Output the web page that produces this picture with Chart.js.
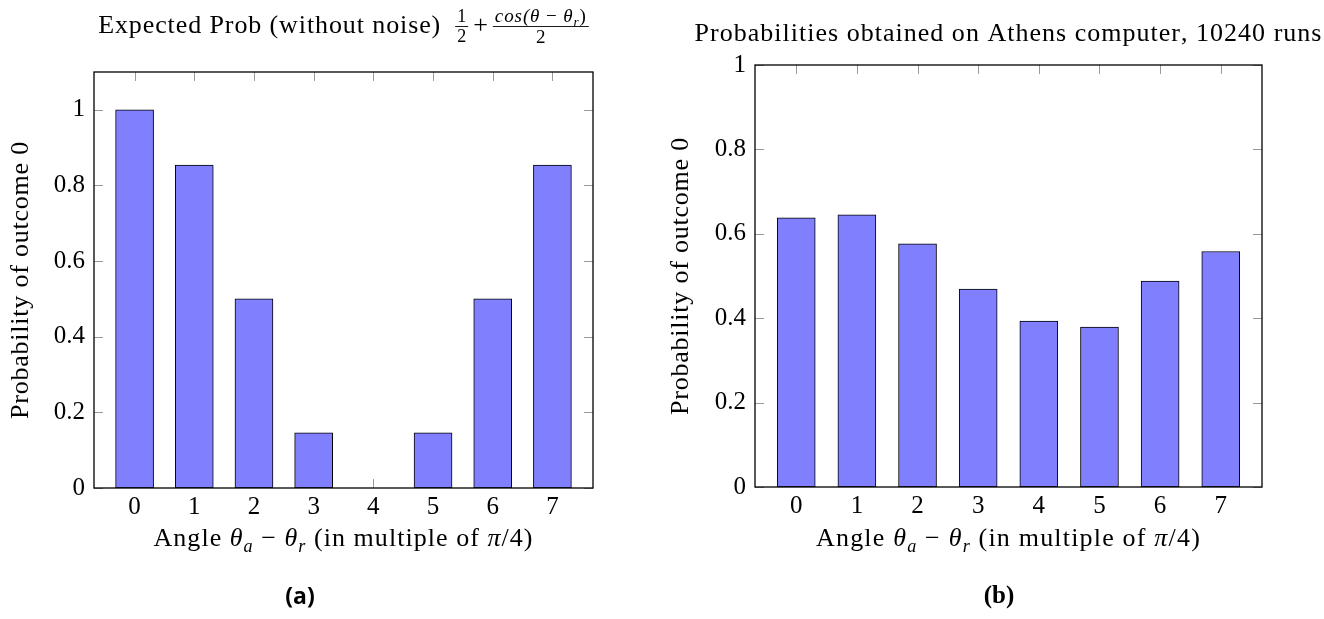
<!DOCTYPE html>
<html>
<head>
<meta charset="utf-8">
<script src="https://cdn.jsdelivr.net/npm/chart.js@4/dist/chart.umd.min.js"></script>
<style>
  body { margin: 0; background: #fff; width: 1324px; height: 619px; overflow: hidden; position: relative; }
  canvas { position: absolute; top: 0; }
  #chartA { left: 0; }
  #chartB { left: 660px; }
  .cap { position: absolute; top: 595px; transform: translate(-50%, -50%); color: #000; font-weight: bold; }
  #capA { left: 300px; font-family: "Open Sans", sans-serif; font-size: 23px; }
  #capB { left: 999px; font-family: "Liberation Serif", serif; font-size: 25px; }
</style>
</head>
<body>
<canvas id="chartA" width="660" height="619"></canvas>
<canvas id="chartB" width="664" height="619"></canvas>
<div class="cap" id="capA">(a)</div>
<div class="cap" id="capB">(b)</div>
<script>
// angle index (multiples of pi/4)
const angles = [0, 1, 2, 3, 4, 5, 6, 7];
// expected probability of outcome 0 without noise
const expectedProb = [1, 0.854, 0.5, 0.146, 0, 0.146, 0.5, 0.854];
// measured on Athens, 10240 runs
const athensProb = [0.638, 0.645, 0.576, 0.469, 0.393, 0.379, 0.488, 0.558];
const yTicksA = [0, 0.2, 0.4, 0.6, 0.8, 1];
const yTicksB = [0, 0.2, 0.4, 0.6, 0.8, 1];

const titleA = "Expected Prob (without noise)";
const titleB = "Probabilities obtained on Athens computer, 10240 runs";
const yTitle = "Probability of outcome 0";

const SERIF = '"Liberation Serif", serif';
const BAR_FILL = "#8080ff";
const TXT = 26;

function segFont(s, base) {
    const size = s.sub ? base * 0.7 : base;
    return (s.it ? "italic " : "") + size + "px " + SERIF;
}

function measureSegs(ctx, segs, base) {
    let w = 0, n = 0;
    segs.forEach(s => {
        ctx.font = segFont(s, base);
        for (const ch of s.t) { w += ctx.measureText(ch).width; n++; }
    });
    return { w, n };
}

// draws segments char by char, with extra spacing so the run fills "target" px
function drawSegs(ctx, segs, base, x, y, target) {
    const m = measureSegs(ctx, segs, base);
    const ls = target ? (target - m.w) / m.n : 0;
    segs.forEach(s => {
        ctx.font = segFont(s, base);
        const dy = s.sub ? base * 0.22 : 0;
        for (const ch of s.t) {
            ctx.fillText(ch, x, y + dy);
            x += ctx.measureText(ch).width + ls;
        }
    });
    return x;
}

function drawFrac(ctx, num, den, base, x, barY, w, numTarget) {
    const md = measureSegs(ctx, den, base);
    const wn = numTarget || measureSegs(ctx, num, base).w;
    drawSegs(ctx, num, base, x + (w - wn) / 2, barY - 4, numTarget);
    drawSegs(ctx, den, base, x + (w - md.w) / 2, barY + 4 + base * 0.66);
    ctx.beginPath();
    ctx.lineWidth = 0.9;
    ctx.moveTo(x, barY + 0.5);
    ctx.lineTo(x + w, barY + 0.5);
    ctx.stroke();
    return x + w;
}

const xTitleSegs = [
    { t: "Angle " }, { t: "θ", it: true }, { t: "a", it: true, sub: true },
    { t: " − " }, { t: "θ", it: true }, { t: "r", it: true, sub: true },
    { t: " (in multiple of " }, { t: "π", it: true }, { t: "/4)" }
];

function decorPlugin(which) {
    return {
        id: "decor" + which,
        beforeDatasetsDraw(chart) {
            const { ctx, chartArea: a, scales } = chart;
            const tl = 9;
            ctx.save();
            ctx.strokeStyle = "#9a9a9a";
            ctx.lineWidth = 1;
            ctx.beginPath();
            scales.x.ticks.forEach(t => {
                const px = Math.round(scales.x.getPixelForValue(t.value)) + 0.5;
                ctx.moveTo(px, a.bottom); ctx.lineTo(px, a.bottom - tl);
                ctx.moveTo(px, a.top); ctx.lineTo(px, a.top + tl);
            });
            scales.y.ticks.forEach(t => {
                const py = Math.round(scales.y.getPixelForValue(t.value)) + 0.5;
                ctx.moveTo(a.left, py); ctx.lineTo(a.left + tl, py);
                ctx.moveTo(a.right, py); ctx.lineTo(a.right - tl, py);
            });
            ctx.stroke();
            ctx.restore();
        },
        afterDatasetsDraw(chart) {
            const { ctx, chartArea: a } = chart;
            ctx.save();
            ctx.strokeStyle = "#000";
            ctx.lineWidth = 1.3;
            ctx.strokeRect(a.left, a.top, a.right - a.left, a.bottom - a.top);
            ctx.restore();
        },
        afterDraw(chart) {
            const { ctx, chartArea: a } = chart;
            const cx = (a.left + a.right) / 2;
            const cy = (a.top + a.bottom) / 2;
            ctx.save();
            ctx.fillStyle = "#000";
            ctx.strokeStyle = "#000";
            ctx.textBaseline = "alphabetic";
            ctx.textAlign = "left";

            // title
            if (which === "A") {
                const num2 = [{ t: "cos(", it: true }, { t: "θ", it: true }, { t: " − " }, { t: "θ", it: true }, { t: "r", it: true, sub: true }, { t: ")" }];
                const total = 343 + 14 + 13 + 5 + measureSegs(ctx, [{ t: "+" }], TXT).w + 5 + 96;
                const base = 33;
                const barY = base - 7;
                let x = cx - total / 2;
                x = drawSegs(ctx, [{ t: titleA }], TXT, x, base, 343);
                x += 14;
                x = drawFrac(ctx, [{ t: "1" }], [{ t: "2" }], 18, x, barY, 13);
                x += 5;
                x = drawSegs(ctx, [{ t: "+" }], TXT, x, base);
                x += 5;
                drawFrac(ctx, num2, [{ t: "2" }], 19, x, barY, 96, 92);
            } else {
                drawSegs(ctx, [{ t: titleB }], TXT, cx - 314, 41, 628);
            }

            // x axis title
            const xw = which === "A" ? 380 : 385;
            drawSegs(ctx, xTitleSegs, TXT, cx - xw / 2, 546, xw);

            // y axis title
            ctx.translate(21, cy);
            ctx.rotate(-Math.PI / 2);
            drawSegs(ctx, [{ t: yTitle }], TXT, -139, 7, 278);
            ctx.restore();
        }
    };
}

function makeChart(id, which, values, yTicks, yMax, yAxisW, padRight, padTop, xAxisH) {
    const ctx = document.getElementById(id).getContext("2d");
    return new Chart(ctx, {
        type: "bar",
        data: {
            datasets: [{
                data: angles.map((a, i) => ({ x: a, y: values[i] })),
                backgroundColor: BAR_FILL,
                borderColor: "#000",
                borderWidth: 1,
                borderSkipped: false,
                barThickness: 38
            }]
        },
        options: {
            responsive: false,
            animation: false,
            devicePixelRatio: 1,
            layout: { padding: { left: 0, right: padRight, top: padTop, bottom: 0 } },
            plugins: { legend: { display: false }, tooltip: { enabled: false }, title: { display: false } },
            scales: {
                x: {
                    type: "linear",
                    min: -0.68,
                    max: 7.68,
                    offset: false,
                    grid: { display: false, drawTicks: false },
                    border: { display: false },
                    afterBuildTicks: s => { s.ticks = angles.map(v => ({ value: v })); },
                    afterFit: s => { s.height = xAxisH; },
                    ticks: {
                        padding: 4,
                        maxRotation: 0,
                        autoSkip: false,
                        color: "#000",
                        font: { family: SERIF, size: 25 },
                        callback: v => String(v)
                    }
                },
                y: {
                    min: 0,
                    max: yMax,
                    grid: { display: false, drawTicks: false },
                    border: { display: false },
                    afterBuildTicks: s => { s.ticks = yTicks.map(v => ({ value: v })); },
                    afterFit: s => { s.width = yAxisW; },
                    ticks: {
                        padding: 9,
                        color: "#000",
                        font: { family: SERIF, size: 25 },
                        callback: v => String(Math.round(v * 10) / 10)
                    }
                }
            }
        },
        plugins: [decorPlugin(which)]
    });
}

makeChart("chartA", "A", expectedProb, yTicksA, 1.1, 94, 67, 72, 131);
makeChart("chartB", "B", athensProb, yTicksB, 1, 95, 62, 65, 132);
</script>
</body>
</html>
